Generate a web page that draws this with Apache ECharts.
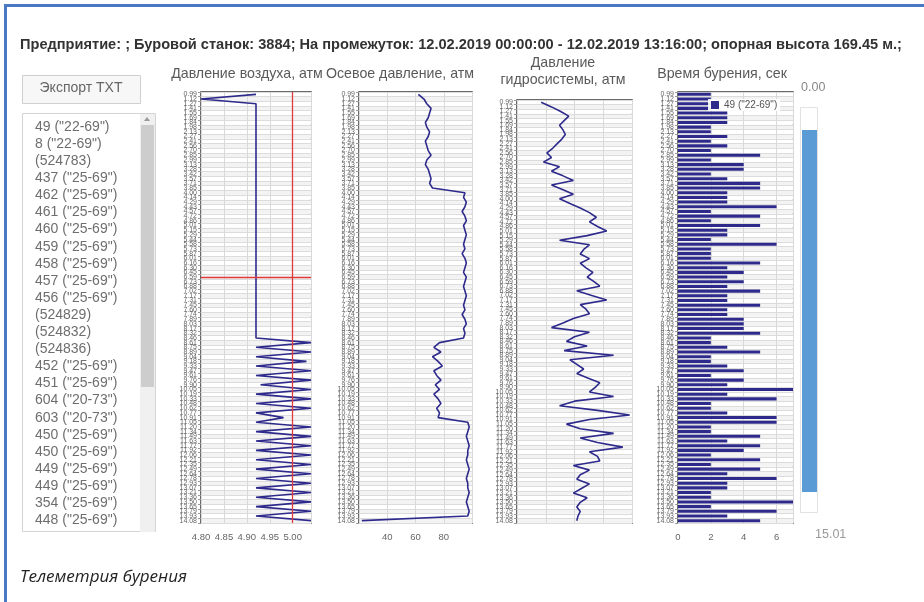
<!DOCTYPE html>
<html><head><meta charset="utf-8">
<script src="https://cdn.jsdelivr.net/npm/echarts@6/dist/echarts.min.js"></script>
<style>html,body{margin:0;padding:0;background:#fff}#c{width:924px;height:602px}</style>
</head><body><div id="c"></div><script>
const depths = ['0.99','1.12','1.27','1.41','1.55','1.69','1.84','1.98','2.13','2.27','2.41','2.56','2.70','2.85','2.99','3.13','3.28','3.42','3.57','3.71','3.85','4.00','4.14','4.29','4.43','4.57','4.72','4.86','5.01','5.15','5.29','5.44','5.58','5.73','5.87','6.01','6.16','6.30','6.45','6.59','6.73','6.88','7.02','7.17','7.31','7.45','7.60','7.74','7.89','8.03','8.17','8.32','8.46','8.61','8.75','8.89','9.04','9.18','9.33','9.47','9.61','9.76','9.90','10.05','10.19','10.33','10.48','10.62','10.77','10.91','11.05','11.20','11.34','11.49','11.63','11.77','11.92','12.06','12.21','12.35','12.49','12.64','12.78','12.93','13.07','13.21','13.36','13.50','13.65','13.79','13.93','14.08'];
const airPressure = [4.92,4.80,4.92,4.92,4.92,4.92,4.92,4.92,4.92,4.92,4.92,4.92,4.92,4.92,4.92,4.92,4.92,4.92,4.92,4.92,4.92,4.92,4.92,4.92,4.92,4.92,4.92,4.92,4.92,4.92,4.92,4.92,4.92,4.92,4.92,4.92,4.92,4.92,4.92,4.92,4.92,4.92,4.92,4.92,4.92,4.92,4.92,4.92,4.92,4.92,4.92,4.92,4.92,
  5.04,4.92,5.04,4.92,5.03,4.92,5.04,4.92,5.04,4.93,5.04,4.92,5.04,4.92,5.04,4.92,4.98,4.92,5.04,4.92,5.04,4.92,5.04,4.92,5.04,4.92,5.04,4.92,5.04,4.92,5.04,4.92,5.04,4.92,5.04,4.92,5.04,4.92,5.04];
const axialPressure = [62,66,68,71,70,69,67,68,70,69,67,68,69,71,68,67,69,70,71,70,72,
  95,94,96,95,93,95,96,94,95,96,95,94,95,93,95,96,95,94,96,95,94,95,96,95,94,95,93,95,96,94,95,94,
  77,73,78,72,76,79,73,75,78,74,77,73,76,78,75,77,76,
  97,98,97,96,97,98,97,97,96,97,98,97,96,97,97,98,97,96,97,98,97,22];
const hydroPressure = [21,30,38,45,41,37,40,42,39,35,31,26,30,23,37,30,40,49,30,40,49,37,46,55,63,69,63,70,78,61,37,63,58,55,63,55,60,66,61,67,72,52,65,78,55,60,63,49,40,30,63,50,43,61,41,84,46,52,58,52,62,72,68,63,84,50,37,70,98,63,43,55,84,55,70,92,63,70,72,49,63,55,52,63,56,49,61,55,52,55,53,52];
const drillTime = [2,2,2,2,3,3,3,2,2,3,2,3,2,5,2,4,4,2,3,5,5,3,3,3,6,2,5,2,5,3,3,2,6,2,2,2,5,3,4,3,4,3,5,3,3,5,3,3,4,4,4,5,2,2,3,5,2,2,3,4,2,4,3,7,3,6,2,2,3,6,6,2,2,5,3,5,4,2,5,2,5,3,6,3,3,2,2,7,2,6,3,5];
const wellList = ['49 ("22-69")','8 ("22-69")','(524783)','437 ("25-69")','462 ("25-69")','461 ("25-69")','460 ("25-69")','459 ("25-69")','458 ("25-69")','457 ("25-69")','456 ("25-69")','(524829)','(524832)','(524836)','452 ("25-69")','451 ("25-69")','604 ("20-73")','603 ("20-73")','450 ("25-69")','450 ("25-69")','449 ("25-69")','449 ("25-69")','354 ("25-69")','448 ("25-69")'];
const headerText = 'Предприятие: ; Буровой станок: 3884; На промежуток: 12.02.2019 00:00:00 - 12.02.2019 13:16:00; опорная высота 169.45 м.;';
const panelTitles = ['Давление воздуха, атм','Осевое давление, атм','Давление\nгидросистемы, атм','Время бурения, сек'];
const seriesName = '49 ("22-69")';
const sliderLabels = ['0.00','15.01'];
const caption = 'Телеметрия бурения';
const markAir = 5.00;
const markRow = 39;

const chart = echarts.init(document.getElementById('c'), null, {renderer:'canvas'});
const NAVY = '#2e2a8c';
const grids = [
  {left:201, top:92, width:110, height:431},
  {left:359, top:92, width:113, height:431},
  {left:517, top:100, width:115, height:423},
  {left:678, top:92, width:115, height:431}
].map(g => Object.assign({show:true, borderColor:'#3a3a3a', borderWidth:1.5, backgroundColor:'#fff'}, g));

const yAxes = grids.map((g,i) => ({
  type:'category', gridIndex:i, data:depths, inverse:true,
  axisLine:{show:false}, axisTick:{show:true, length:3, lineStyle:{color:'#999'}, interval:0},
  axisLabel:{interval:0, fontSize:7, color:'#666', margin:4, fontFamily:'Liberation Sans'},
  splitLine:{show:true, interval:0, lineStyle:{color:'#dcdcdc', width:1}},
  splitArea:{show:true, interval:0, areaStyle:{color:['#ffffff','#f3f3f3']}}
}));
const xBase = {type:'value', splitLine:{show:true, lineStyle:{color:'#d9d9d9'}}, axisLine:{show:false}, axisTick:{show:false},
  axisLabel:{fontSize:9.5, color:'#666', margin:9, fontFamily:'Liberation Sans'}};
const xAxes = [
  Object.assign({}, xBase, {gridIndex:0, min:4.8, max:5.04, interval:0.05, axisLabel:Object.assign({}, xBase.axisLabel, {showMaxLabel:false, formatter:v=>v.toFixed(2)})}),
  Object.assign({}, xBase, {gridIndex:1, min:20, max:100, interval:20, axisLabel:Object.assign({}, xBase.axisLabel, {showMinLabel:false, showMaxLabel:false})}),
  Object.assign({}, xBase, {gridIndex:2, min:0, max:100, interval:25, axisLabel:{show:false}}),
  Object.assign({}, xBase, {gridIndex:3, min:0, max:7, interval:2, axisLabel:Object.assign({}, xBase.axisLabel, {showMaxLabel:false})})
];
const lineBase = {type:'line', showSymbol:false, symbol:'none', lineStyle:{color:NAVY, width:1.6}, itemStyle:{color:NAVY}, animation:false};
const RED = '#e03a3a';
const series = [
  Object.assign({}, lineBase, {name:'air', xAxisIndex:0, yAxisIndex:0, data:airPressure}),
  {type:'line', name:'marks', xAxisIndex:0, yAxisIndex:0, data:[], silent:true, animation:false,
    markLine:{silent:true, symbol:['none','none'], z:10, label:{show:false},
      lineStyle:{color:RED, width:1.3, type:'solid', opacity:1},
      data:[{xAxis:markAir}, {yAxis:markRow}]}},
  Object.assign({}, lineBase, {name:'axial', xAxisIndex:1, yAxisIndex:1, data:axialPressure}),
  Object.assign({}, lineBase, {name:'hydro', xAxisIndex:2, yAxisIndex:2, data:hydroPressure}),
  {type:'bar', name:seriesName, xAxisIndex:3, yAxisIndex:3, data:drillTime, barCategoryGap:'35%', itemStyle:{color:NAVY}, animation:false}
];

const F = (s, w) => (w||'') + ' ' + s + 'px "Liberation Sans", Arial, sans-serif';
const T = (x,y,text,o) => ({type:'text', x, y, silent:true, style:Object.assign({text, fill:'#555', font:F(12)}, o||{})});
const graphics = [];
graphics.push({type:'rect', shape:{x:4, y:4, width:930, height:3}, style:{fill:'#4a78c4'}});
graphics.push({type:'rect', shape:{x:4, y:4, width:3, height:610}, style:{fill:'#4a78c4'}});
graphics.push(T(20, 37, headerText, {fill:'#333', font:F(14.6,'bold')}));
const titlePos = [[247,66],[400,66],[563,55],[722,66]];
panelTitles.forEach((t,i) => graphics.push(T(titlePos[i][0], titlePos[i][1], t, {textAlign:'center', fill:'#5a5a5a', font:F(14.2), lineHeight:17})));
graphics.push({type:'rect', shape:{x:22.5, y:75.5, width:118, height:28}, style:{fill:'#f7f7f7', stroke:'#cfcfcf', lineWidth:1}});
graphics.push(T(81, 81, 'Экспорт TXT', {textAlign:'center', fill:'#666', font:F(14)}));
graphics.push({type:'rect', shape:{x:22.5, y:113.5, width:133, height:418}, style:{fill:'#fff', stroke:'#d4d4d4', lineWidth:1}});
graphics.push({type:'rect', shape:{x:140, y:114, width:15, height:418}, style:{fill:'#f0f0f0'}});
graphics.push({type:'rect', shape:{x:141, y:125, width:13, height:262}, style:{fill:'#cdcdcd'}});
graphics.push({type:'polygon', shape:{points:[[144,121],[150,121],[147,117]]}, style:{fill:'#999'}});
wellList.forEach((t,i) => graphics.push(T(35, 120 + i*17.1, t, {fill:'#6e6e6e', font:F(14)})));
graphics.push({type:'rect', shape:{x:800.5, y:107.5, width:17, height:405}, style:{fill:'#fff', stroke:'#e2e2e2', lineWidth:1}});
graphics.push({type:'rect', shape:{x:802, y:130, width:15, height:362}, style:{fill:'#5b9bd5'}});
graphics.push(T(801, 81, sliderLabels[0], {fill:'#888', font:F(12.5)}));
graphics.push(T(815, 528, sliderLabels[1], {fill:'#999', font:F(12.5)}));
graphics.push(T(20, 569, caption, {fill:'#222', font:'italic 17px "Open Sans", "Noto Sans", sans-serif'}));

chart.setOption({
  animation:false,
  backgroundColor:'#fff',
  grid:grids, xAxis:xAxes, yAxis:yAxes, series,
  legend:{data:[seriesName], left:708, top:99, itemWidth:8, itemHeight:8, icon:'rect', itemGap:4,
    textStyle:{fontSize:10, color:'#555', fontFamily:'Liberation Sans'}, padding:[1,3], backgroundColor:'rgba(255,255,255,0.9)', selectedMode:false},
  graphic:graphics
});
</script></body></html>
